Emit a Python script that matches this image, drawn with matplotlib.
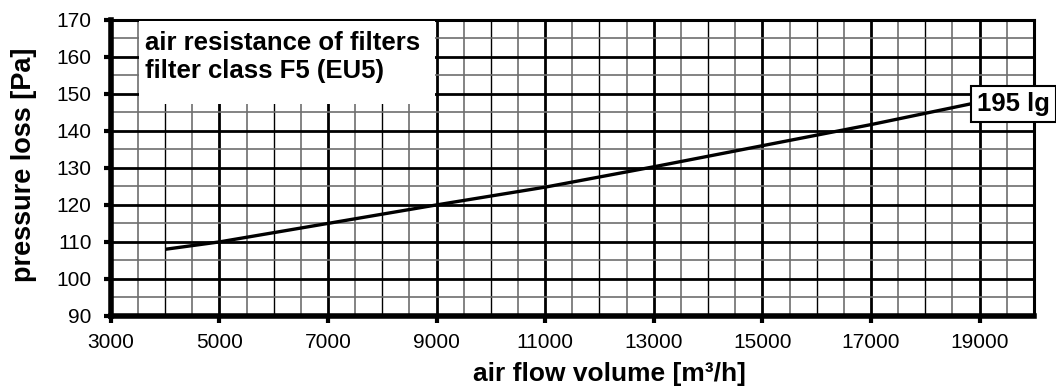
import matplotlib.pyplot as plt
import numpy as np

plt.rcParams['font.family'] = ['Liberation Sans', 'DejaVu Sans']

# filter curve, pressure loss against air flow
flow = [4000, 5000, 7000, 9000, 11000, 13000, 15000, 17000, 19000]
loss = [108, 110, 115, 120, 124.8, 130.3, 136, 141.7, 147.8]
curve_label = "195 lg"

x_ticks = list(range(3000, 19001, 2000))
y_ticks = list(range(90, 171, 10))
title_lines = ["air resistance of filters", "filter class F5 (EU5)"]

fig = plt.figure(figsize=(10.56, 3.9), dpi=100)
ax = fig.add_axes([0.105, 0.190, 0.874, 0.759])
ax.set_xlim(3000, 20000)
ax.set_ylim(90, 170)

# graph paper: gray every 500 / 5 Pa, black every 1000, bold every 2000 / 10 Pa
for xv in np.arange(3500, 20000, 500):
    if (xv - 3000) % 2000 == 0:
        ax.axvline(xv, color='black', lw=2.0, zorder=1)
    elif xv % 1000 == 0:
        ax.axvline(xv, color='black', lw=1.0, zorder=1)
    else:
        ax.axvline(xv, color='#6e6e6e', lw=1.2, zorder=1)
for yv in np.arange(95, 170, 5):
    if yv % 10 == 0:
        ax.axhline(yv, color='black', lw=2.0, zorder=1)
    else:
        ax.axhline(yv, color='#6e6e6e', lw=1.2, zorder=1)

ax.set_xticks(x_ticks)
ax.set_yticks(y_ticks)
ax.tick_params(axis='both', labelsize=15, width=3, length=5, direction='out')
ax.tick_params(axis='x', pad=7)
ax.tick_params(axis='y', pad=9)

for side in ['left', 'bottom']:
    ax.spines[side].set_linewidth(4)
for side in ['top', 'right']:
    ax.spines[side].set_linewidth(2.2)

ax.set_xlabel("air flow volume [m³/h]", fontsize=19, fontweight='bold')
ax.set_ylabel("pressure loss [Pa]", fontsize=19.5, fontweight='bold')
ax.xaxis.set_label_coords(0.54, -0.155)
ax.yaxis.set_label_coords(-0.08, 0.51)

# title panel on a white patch covering the grid
ax.add_patch(plt.Rectangle((3520, 147.3), 5450, 22.5, facecolor='white',
                           edgecolor='none', zorder=3))
ax.text(3620, 160.0, "\n".join(title_lines), fontsize=18.5, fontweight='bold',
        va='center', ha='left', linespacing=1.18, zorder=4)

ax.plot(flow, loss, color='black', lw=2.4, zorder=5, solid_capstyle='butt')
ax.annotate(curve_label, (flow[-1], loss[-1]), xytext=(18950, 147.2),
            fontsize=18.5, fontweight='bold', va='center', ha='left',
            annotation_clip=False, zorder=6,
            bbox=dict(boxstyle='square,pad=0.24', facecolor='white',
                      edgecolor='black', lw=1.5))

fig.savefig("out.png", dpi=100)
